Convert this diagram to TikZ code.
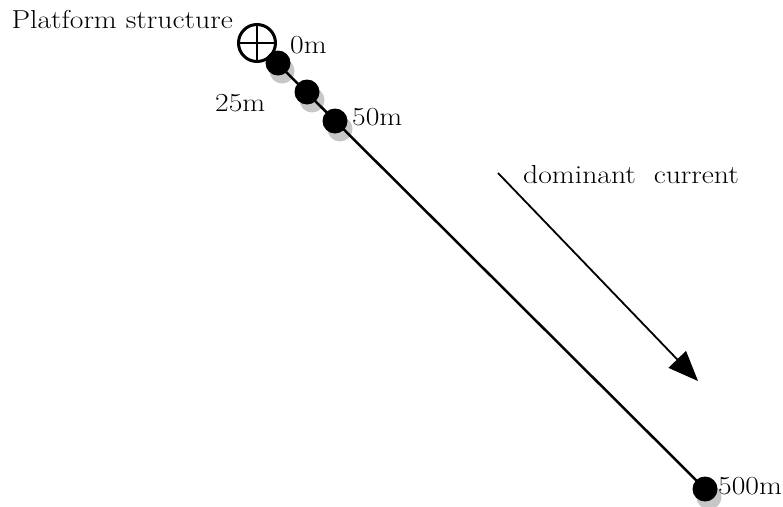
\documentclass[tikz,border=0pt]{standalone}
\usetikzlibrary{arrows.meta}
\newcommand{\wide}[1]{\scalebox{1.14}[1]{#1}}
\begin{document}
\begin{tikzpicture}[x=1pt,y=-1pt,
  dotnode/.style={circle,fill=black,minimum size=25pt,inner sep=0pt},
  shadownode/.style={circle,fill=black!22,minimum size=25pt,inner sep=0pt},
  lbl/.style={font=\fontsize{26}{30}\selectfont,inner sep=0pt},
]
\useasboundingbox (0,0) rectangle (783,506);
% shadows
\node[shadownode] (s0) at (282,71) {};
\node[shadownode] (s25) at (312,100) {};
\node[shadownode] (s50) at (340,129) {};
\node[shadownode] (s500) at (709,497) {};
% platform
\node[circle,draw,line width=3pt,minimum size=37pt,inner sep=0pt,fill=white] (p) at (257,43) {};
\draw[line width=2.5pt] (p.north) -- (p.south);
\draw[line width=2.5pt] (p.west) -- (p.east);
% line
\coordinate (d500c) at (705,489);
\draw[line width=2.5pt] (p.south east) -- (d500c);
% dots
\node[dotnode] (d0) at (278,63) {};
\node[dotnode] (d25) at (307,92) {};
\node[dotnode] (d50) at (335,121) {};
\node[dotnode] (d500) at (705,489) {};
% labels
\node[lbl,anchor=base east] (tp) at (233,28) {\wide{Platform structure}};
\node[lbl,anchor=base west] (t0) at (290,53) {\wide{0m}};
\node[lbl,anchor=base west] (t25) at (215,111) {\wide{25m}};
\node[lbl,anchor=base west] (t50) at (352,125) {\wide{50m}};
\node[lbl,anchor=base west] (t500) at (718,494) {\wide{500m}};
\node[lbl,anchor=base west] (tc) at (523,183) {\wide{dominant\ \ current}};
% arrow
\coordinate (a1) at (498,173);
\coordinate (a2) at (698,381);
\draw[line width=1.8pt,-{Triangle[length=30pt,width=24pt]}] (a1) -- (a2);
\end{tikzpicture}
\end{document}
